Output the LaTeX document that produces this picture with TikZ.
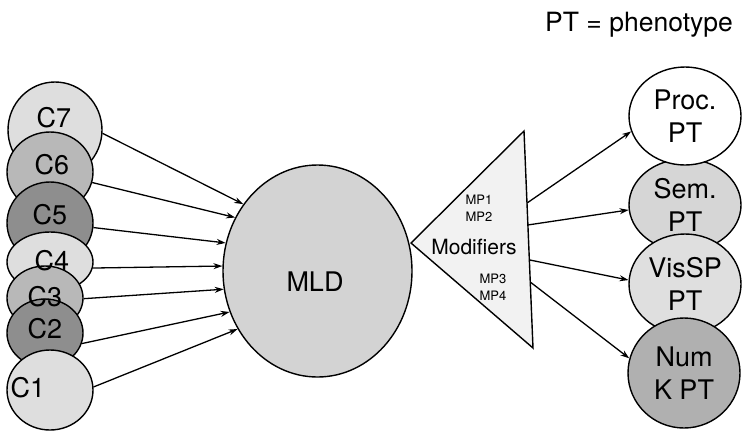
\documentclass[tikz,border=0pt]{standalone}
\usepackage{fontspec}
\setmainfont{TeX Gyre Heros}
\usetikzlibrary{shapes.geometric,arrows.meta,calc}
\definecolor{lite}{HTML}{DEDEDE}
\definecolor{mid}{HTML}{B8B8B8}
\definecolor{dark}{HTML}{8E8E8E}
\definecolor{mldfill}{HTML}{D3D3D3}
\definecolor{trifill}{HTML}{F2F2F2}
\definecolor{semfill}{HTML}{D6D6D6}
\definecolor{visfill}{HTML}{DFDFDF}
\definecolor{numfill}{HTML}{B0B0B0}
\begin{document}
\begin{tikzpicture}[x=1pt,y=-1pt,
  blob/.style={ellipse,draw=black,line width=1.4pt,inner sep=0pt},
  lbl/.style={font=\fontsize{27}{33}\selectfont,align=center,inner sep=0pt},
  arr/.style={line width=1.3pt,-{Stealth[length=9pt,width=6pt]}},
  small/.style={font=\fontsize{13}{17}\selectfont,align=left,inner sep=0pt}
]
\useasboundingbox (0,0) rectangle (743,432);
% left circles (bottom-most drawn first)
\node[blob,fill=lite,minimum width=94pt,minimum height=96pt] (c7) at (55,130) {};
\node[blob,fill=mid,minimum width=86pt,minimum height=80pt] (c6) at (50,172) {};
\node[blob,fill=dark,minimum width=86pt,minimum height=82pt] (c5) at (50,223) {};
\node[blob,fill=lite,minimum width=86pt,minimum height=60pt] (c4) at (50,262) {};
\node[blob,fill=mid,minimum width=76pt,minimum height=64pt] (c3) at (45,298) {};
\node[blob,fill=dark,minimum width=76pt,minimum height=68pt] (c2) at (45,333) {};
\node[blob,fill=lite,minimum width=86pt,minimum height=80pt] (c1) at (50,390) {};
% labels
\node[lbl] (l7) at (54,118) {C7};
\node[lbl] (l6) at (52,165) {C6};
\node[lbl] (l5) at (50,215) {C5};
\node[lbl] (l4) at (52,261) {C4};
\node[lbl] (l3) at (45,297) {C3};
\node[lbl] (l2) at (45,329) {C2};
\node[lbl] (l1) at (28,388) {C1};
% MLD
\node[blob,fill=mldfill,minimum width=189pt,minimum height=212pt] (mld) at (317.5,271) {};
\node[lbl] (mldl) at (315,282) {MLD};
% modifiers triangle
\coordinate (tA) at (411,243);
\coordinate (tT) at (524,131);
\coordinate (tB) at (533,348);
\draw[line width=1.4pt,fill=trifill,line join=miter] (tA) -- (tT) -- (tB) -- cycle;
\coordinate (m1) at ($(tT)!0.332!(tB)$);
\coordinate (m2) at ($(tT)!0.433!(tB)$);
\coordinate (m3) at ($(tT)!0.594!(tB)$);
\coordinate (m4) at ($(tT)!0.696!(tB)$);
\node[small] (mp12) at (479,208.5) {MP1\\MP2};
\node[font=\fontsize{21}{25}\selectfont,inner sep=0pt] (mod) at (474,247) {Modifiers};
\node[small] (mp34) at (493,287.5) {MP3\\MP4};
% phenotypes
\node[blob,lbl,fill=semfill,minimum width=112pt,minimum height=92pt] (sem) at (685,205) {Sem.\\PT};
\node[blob,lbl,fill=white,minimum width=112pt,minimum height=98pt] (proc) at (685,116) {Proc.\\PT};
\node[blob,lbl,fill=visfill,minimum width=112pt,minimum height=100pt] (vis) at (685,284) {VisSP\\PT};
\node[blob,lbl,fill=numfill,minimum width=112pt,minimum height=110pt] (num) at (684,373) {Num\\K PT};
% legend
\node[font=\fontsize{26.5}{30}\selectfont,anchor=base east,inner sep=0pt] (legend) at (733,31) {PT = phenotype};
% arrows into MLD
\draw[arr] (c7.-4) -- (mld.138);
\draw[arr] (c6.-14) -- (mld.147);
\draw[arr] (c5.-6) -- (mld.163);
\draw[arr] (c4.-8) -- (mld.177.5);
\draw[arr] (c3.-1) -- (mld.191);
\draw[arr] (c2.-16) -- (mld.205);
\draw[arr] (c1.4) -- (mld.216.5);
% arrows out of modifiers
\draw[arr] (m1) -- (proc.196);
\draw[arr] (m2) -- (sem.185);
\draw[arr] (m3) -- (vis.176);
\draw[arr] (m4) -- (num.165.5);
\end{tikzpicture}
\end{document}
